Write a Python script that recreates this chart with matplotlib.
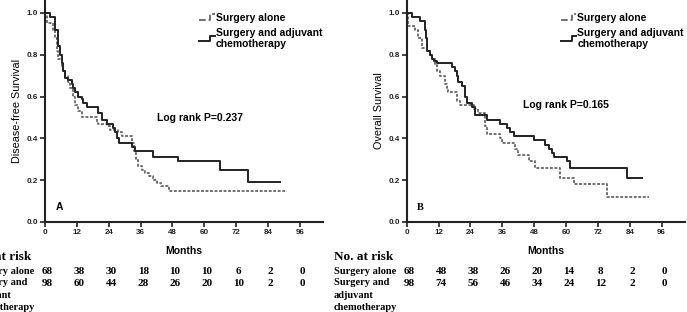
import numpy as np
import matplotlib
matplotlib.use("Agg")
import matplotlib.pyplot as plt
from matplotlib.lines import Line2D
from matplotlib.legend_handler import HandlerBase
import matplotlib.transforms as mtransforms

plt.rcParams["font.family"] = ["Liberation Sans", "DejaVu Sans"]

# ---- data ----
# A: disease-free survival
dfs_alone_t = [0, 0.6, 3.1, 3.8, 4.4, 5.0, 6.3, 6.9, 7.5, 8.8, 9.4, 10.7, 11.3, 12.5, 13.8,
               19.4, 20.1, 23.2, 24.5, 27.6, 28.9, 32.6, 33.5, 34.2, 35.1, 36.4, 37.8, 39.0,
               40.5, 42.0, 43.5, 46.8, 91.0]
dfs_alone_s = [1.0, 0.95, 0.92, 0.88, 0.82, 0.78, 0.74, 0.72, 0.70, 0.67, 0.64, 0.60, 0.56, 0.53, 0.50,
               0.48, 0.47, 0.46, 0.44, 0.43, 0.41, 0.38, 0.34, 0.30, 0.27, 0.25, 0.235, 0.22,
               0.20, 0.185, 0.17, 0.15, 0.15]
dfs_chemo_t = [0, 1.9, 3.8, 5.0, 5.6, 6.3, 6.9, 7.5, 8.8, 10.0, 10.7, 11.3, 12.5, 13.8, 14.4, 15.7,
               20.1, 21.3, 23.2, 25.7, 26.3, 27.0, 28.0, 32.6, 33.9, 40.8, 50.2, 65.9, 76.5, 88.5]
dfs_chemo_s = [1.0, 0.98, 0.92, 0.84, 0.80, 0.76, 0.72, 0.69, 0.68, 0.66, 0.64, 0.62, 0.60, 0.59, 0.57, 0.55,
               0.52, 0.49, 0.47, 0.45, 0.43, 0.40, 0.38, 0.36, 0.34, 0.31, 0.29, 0.25, 0.19, 0.19]

# B: overall survival
os_alone_t = [0, 0.6, 3.1, 4.4, 5.7, 7.5, 8.8, 9.4, 10.7, 11.3, 12.6, 14.5, 15.1, 15.7, 18.9, 20.1,
              25.2, 27.0, 29.6, 30.2, 35.2, 35.8, 40.9, 42.1, 45.9, 48.4, 57.9, 62.9, 75.5, 91.2]
os_alone_s = [1.0, 0.94, 0.92, 0.88, 0.83, 0.82, 0.80, 0.78, 0.75, 0.72, 0.70, 0.66, 0.64, 0.62, 0.58, 0.56,
              0.54, 0.52, 0.46, 0.42, 0.40, 0.38, 0.35, 0.32, 0.29, 0.26, 0.21, 0.18, 0.12, 0.12]
os_chemo_t = [0, 1.9, 5.0, 6.9, 7.3, 7.8, 8.6, 9.4, 10.1, 11.3, 17.0, 18.2, 18.9, 19.5, 20.8, 22.0,
              22.6, 24.5, 25.8, 30.2, 35.2, 37.7, 39.0, 40.3, 47.8, 52.2, 53.5, 54.7, 55.3, 60.4,
              61.6, 83.0, 88.7]
os_chemo_s = [1.0, 0.98, 0.96, 0.92, 0.88, 0.82, 0.80, 0.78, 0.77, 0.76, 0.74, 0.72, 0.70, 0.67, 0.65, 0.60,
              0.57, 0.55, 0.51, 0.49, 0.47, 0.45, 0.43, 0.41, 0.39, 0.37, 0.35, 0.33, 0.31, 0.29,
              0.26, 0.21, 0.21]

risk_months = [0, 12, 24, 36, 48, 60, 72, 84, 96]
dfs_risk_alone = [68, 38, 30, 18, 10, 10, 6, 2, 0]
dfs_risk_chemo = [98, 60, 44, 28, 26, 20, 10, 2, 0]
os_risk_alone = [68, 48, 38, 26, 20, 14, 8, 2, 0]
os_risk_chemo = [98, 74, 56, 46, 34, 24, 12, 2, 0]

labels = ["Surgery alone", "Surgery and adjuvant\nchemotherapy"]
row_labels = ["Surgery alone", "Surgery and\nadjuvant\nchemotherapy"]

dash_style = dict(color="#666666", linestyle=(0, (1.6, 0.9)), linewidth=1.3)
solid_style = dict(color="#222222", linestyle="-", linewidth=1.4)


class StepHandler(HandlerBase):
    # little step-shaped legend key, like the original
    def create_artists(self, legend, orig_handle, xdescent, ydescent, width, height, fontsize, trans):
        xs = np.array([0, 0.7, 0.7, 1.0]) * width - xdescent
        ys = np.array([0.2, 0.2, 0.95, 0.95]) * height - ydescent
        ln = Line2D(xs, ys, color=orig_handle.get_color(), linestyle=orig_handle.get_linestyle(),
                    linewidth=orig_handle.get_linewidth())
        ln.set_transform(trans)
        return [ln]


fig = plt.figure(figsize=(6.87, 3.12), dpi=100)
W, H = 687.0, 312.0
serif = ["Liberation Serif", "DejaVu Serif"]


def panel(x0, t1, s1, t2, s2, ylabel, letter, letter_font, pval, pxy, r1, r2):
    ax = fig.add_axes([x0 / W, (H - 222) / H, 278 / W, 222 / H])
    a, = ax.step(t1, s1, where="post", **dash_style)
    b, = ax.step(t2, s2, where="post", **solid_style)
    ax.set_xlim(0, 104.7)
    ax.set_ylim(0, 1.062)
    ax.set_xticks(risk_months)
    ax.set_yticks([0, 0.2, 0.4, 0.6, 0.8, 1.0])
    ax.set_yticklabels(["0.0", "0.2", "0.4", "0.6", "0.8", "1.0"])
    for sp in ["top", "right"]:
        ax.spines[sp].set_visible(False)
    for sp in ["left", "bottom"]:
        ax.spines[sp].set_linewidth(1.5)
        ax.spines[sp].set_color("#222222")
    ax.tick_params(direction="out", length=3.5, width=1.2, labelsize=5.8, pad=1.5, colors="#222222")
    for lab in ax.get_xticklabels() + ax.get_yticklabels():
        lab.set_fontweight("bold")
    ax.set_ylabel(ylabel, fontsize=7.8, labelpad=3)
    ax.set_xlabel("Months", fontsize=7.5, fontweight="bold", labelpad=7)
    ax.text(pxy[0], pxy[1], pval, fontsize=7.5, fontweight="bold", ha="left", va="center")
    ax.text(4, 0.07, letter, fontsize=7.5, fontweight="bold", family=letter_font, ha="left", va="center")
    ax.legend([a, b], labels, handler_map={Line2D: StepHandler()}, loc="upper left",
              bbox_to_anchor=(0.535, 0.965), frameon=False, borderpad=0, handlelength=1.5,
              handletextpad=0.1, labelspacing=0.45, prop=dict(weight="bold", size=7.5))

    # number-at-risk table below the axis
    tr = mtransforms.blended_transform_factory(ax.transData, fig.transFigure)
    ax.text(-27.5, (H - 257) / H, "No. at risk", transform=tr, family=serif, fontsize=9.5,
            fontweight="bold", ha="left", va="center", clip_on=False)
    ax.text(-27.5, (H - 272) / H, row_labels[0], transform=tr, family=serif, fontsize=7.5,
            fontweight="bold", ha="left", va="center", clip_on=False)
    ax.text(-27.5, (H - 278) / H, row_labels[1], transform=tr, family=serif, fontsize=7.5,
            fontweight="bold", ha="left", va="top", linespacing=1.5, clip_on=False)
    for m, v1, v2 in zip(risk_months, r1, r2):
        ax.text(m + 1, (H - 272) / H, str(v1), transform=tr, family=serif, fontsize=8,
                fontweight="bold", ha="center", va="center", clip_on=False)
        ax.text(m + 1, (H - 283) / H, str(v2), transform=tr, family=serif, fontsize=8,
                fontweight="bold", ha="center", va="center", clip_on=False)
    return ax


panel(45, dfs_alone_t, dfs_alone_s, dfs_chemo_t, dfs_chemo_s, "Disease-free Survival", "A",
      ["Liberation Sans"], "Log rank P=0.237", (42.2, 0.497), dfs_risk_alone, dfs_risk_chemo)
panel(406.7, os_alone_t, os_alone_s, os_chemo_t, os_chemo_s, "Overall Survival", "B",
      ["Liberation Serif"], "Log rank P=0.165", (43.8, 0.56), os_risk_alone, os_risk_chemo)

fig.savefig("out.png", dpi=100)
